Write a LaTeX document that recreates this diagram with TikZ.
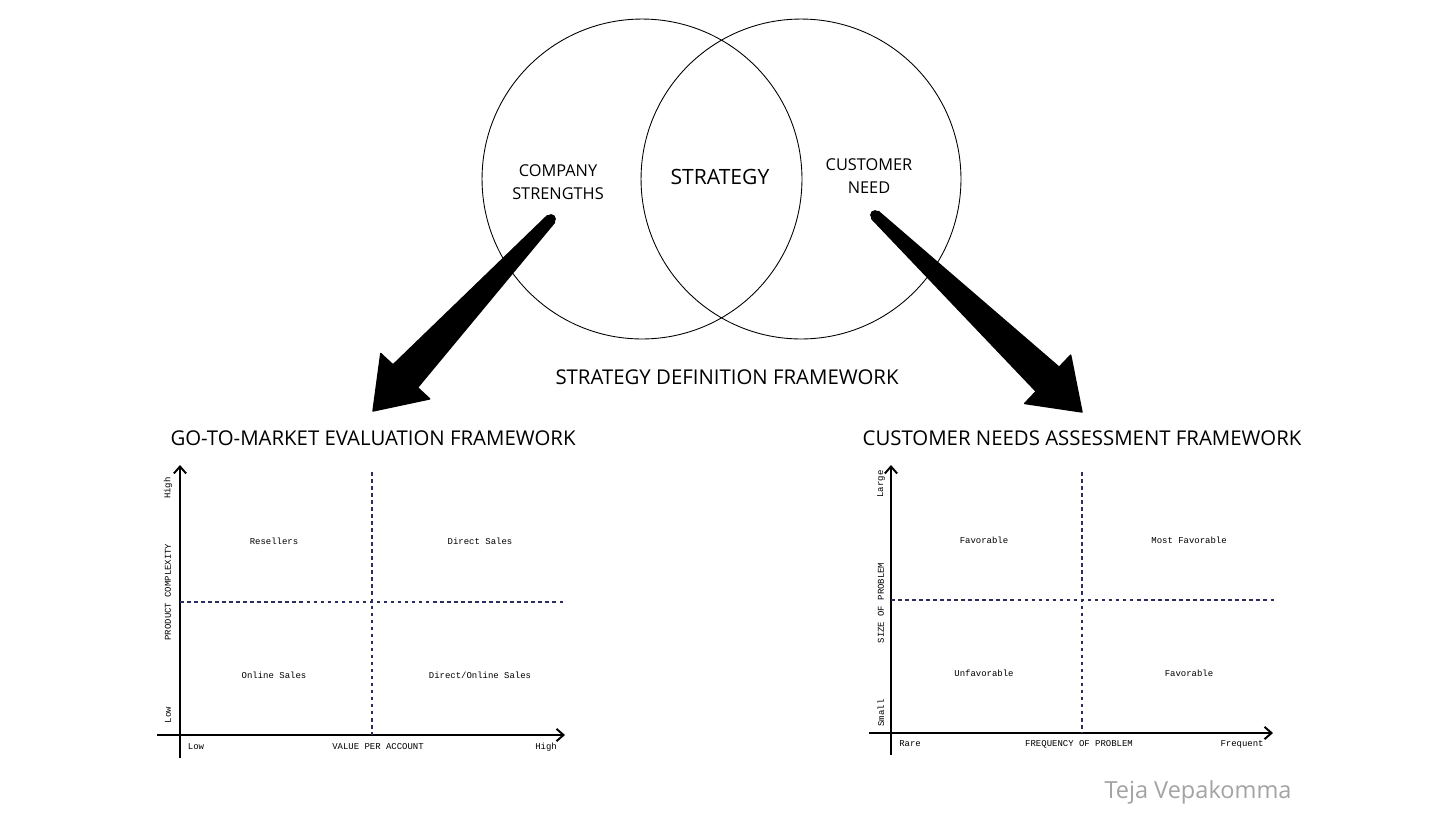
\documentclass[tikz,border=0pt]{standalone}
\usepackage{fontspec}
\setmainfont{Open Sans}
\newfontfamily\plexmono{Liberation Mono}
\usetikzlibrary{calc, arrows.meta, positioning}
\definecolor{gridnavy}{HTML}{2B2D5E}
\definecolor{signgray}{HTML}{A3A3A3}
\tikzset{
   ring/.style={draw, circle, line width=0.5pt, minimum size=6.4cm, inner sep=0pt},
   venntext/.style={align=center, font=\fontsize{9.3}{13}\selectfont},
   title/.style={font=\fontsize{11.6}{14}\selectfont},
   axis/.style={line width=1.1pt, -{Straight Barb[length=4pt, width=7pt]}},
   split/.style={gridnavy, dashed, dash pattern=on 2pt off 2pt, line width=0.6pt},
   cell/.style={font=\plexmono\fontsize{5.1}{6}\selectfont},
   tick/.style={font=\plexmono\fontsize{5.1}{6}\selectfont}
}
% tapered black arrow from tail (#1) to tip (#2)
\newcommand{\fatarrow}[2]{%
   \coordinate (base) at ($(#2)!27pt!(#1)$);
   \filldraw[line width=0.8pt, line join=round]
      ($(#1)!2.8pt!90:(#2)$) -- ($(base)!9.5pt!90:(#2)$) -- ($(base)!19pt!90:(#2)$)
      -- (#2) -- ($(base)!19pt!-90:(#2)$) -- ($(base)!9.5pt!-90:(#2)$)
      -- ($(#1)!2.8pt!-90:(#2)$) -- cycle;
   \fill (#1) circle (2.8pt);
}

\begin{document}
\begin{tikzpicture}[x=0.02cm, y=-0.02cm]
   \useasboundingbox (0,0) rectangle (1456,819);
   % Venn
   \node[ring] (strengths) at (642,179) {};
   \node[ring] (need) at (801,179) {};
   \node[venntext] (strengthstext) at (558,182) {COMPANY\\STRENGTHS};
   \node[font=\fontsize{12}{14}\selectfont] (strategy) at (720,177) {STRATEGY};
   \node[venntext] (needtext) at (869,176) {CUSTOMER\\NEED};
   \node[title] (definition) at (727,377) {STRATEGY DEFINITION FRAMEWORK};

   % Arrows down to the two frameworks
   \coordinate (ltail) at (551,219);
   \coordinate (lhead) at (373,411);
   \coordinate (rtail) at (875,215);
   \coordinate (rhead) at (1082,412);
   \fatarrow{ltail}{lhead}
   \fatarrow{rtail}{rhead}

   % Go-to-market chart
   \node[title] (gotitle) at (373,438) {GO-TO-MARKET EVALUATION FRAMEWORK};
   \draw[axis] (180,758) -- (180,465);
   \draw[axis] (157,735) -- (565,735);
   \draw[split] (372,472) -- (372,735);
   \draw[split] (180,602) -- (563,602);
   \node[cell] (resellers) at (274,541) {Resellers};
   \node[cell] (direct) at (480,541) {Direct Sales};
   \node[cell] (online) at (274,675) {Online Sales};
   \node[cell] (mixed) at (480,675) {Direct/Online Sales};
   \node[tick, rotate=90] (ghigh) at (168,488) {High};
   \node[tick, rotate=90] (complexity) at (168,592) {PRODUCT COMPLEXITY};
   \node[tick, rotate=90] (glow) at (168,715) {Low};
   \node[tick] (vlow) at (196,747) {Low};
   \node[tick] (value) at (378,747) {VALUE PER ACCOUNT};
   \node[tick] (vhigh) at (546,747) {High};

   % Customer needs chart
   \node[title] (needtitle) at (1082,438) {CUSTOMER NEEDS ASSESSMENT FRAMEWORK};
   \draw[axis] (891,755) -- (891,465);
   \draw[axis] (869,733) -- (1273,733);
   \draw[split] (1082,472) -- (1082,733);
   \draw[split] (891,600) -- (1275,600);
   \node[cell] (fav) at (984,540) {Favorable};
   \node[cell] (mostfav) at (1189,540) {Most Favorable};
   \node[cell] (unfav) at (984,673) {Unfavorable};
   \node[cell] (fav2) at (1189,673) {Favorable};
   \node[tick, rotate=90] (large) at (881,484) {Large};
   \node[tick, rotate=90] (size) at (881,603) {SIZE OF PROBLEM};
   \node[tick, rotate=90] (small) at (881,713) {Small};
   \node[tick] (rare) at (910,744) {Rare};
   \node[tick] (frequency) at (1079,744) {FREQUENCY OF PROBLEM};
   \node[tick] (frequent) at (1242,744) {Frequent};

   % Signature
   \node[signgray, font=\fontsize{13.4}{15}\selectfont] (sign) at (1198,792) {Teja Vepakomma};
\end{tikzpicture}
\end{document}
